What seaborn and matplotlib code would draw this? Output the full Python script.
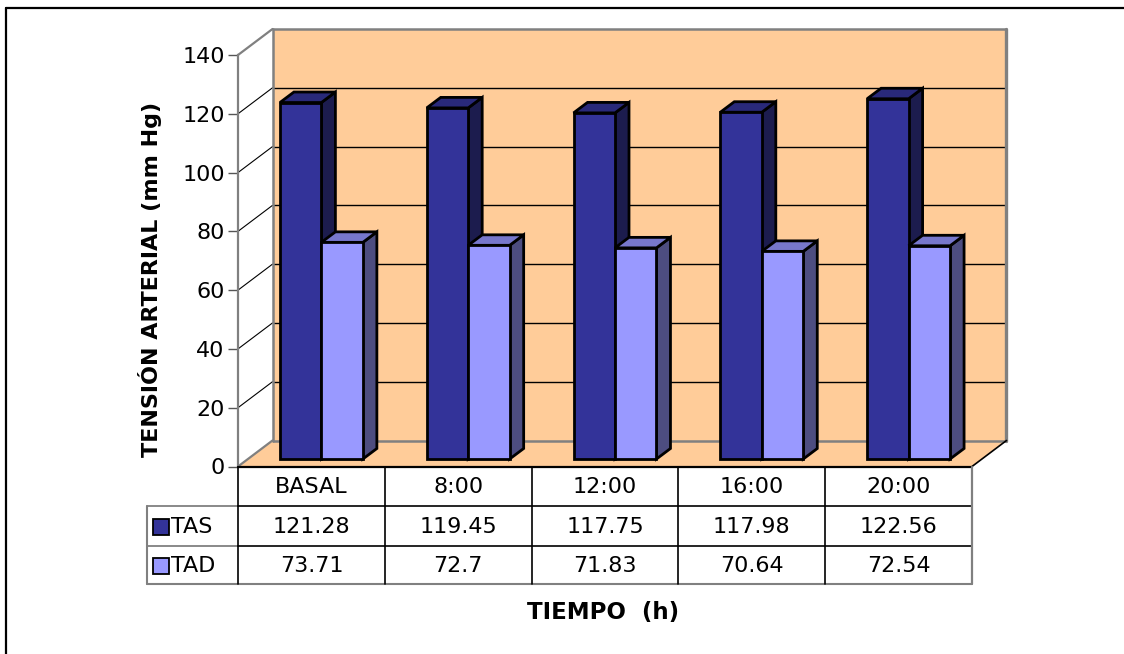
import matplotlib
matplotlib.use("Agg")
import matplotlib.pyplot as plt
from matplotlib.patches import Polygon, Rectangle
from matplotlib.lines import Line2D
from matplotlib import transforms
import pandas as pd
import seaborn as sns

# ---- data -------------------------------------------------------------
categories = ["BASAL", "8:00", "12:00", "16:00", "20:00"]
series = ["TAS", "TAD"]
tas = [121.28, 119.45, 117.75, 117.98, 122.56]
tad = [73.71, 72.7, 71.83, 70.64, 72.54]
y_ticks = [0, 20, 40, 60, 80, 100, 120, 140]

# ---- styling ----------------------------------------------------------
W, H, DPI = 1124, 654, 100
WALL = "#FFCC99"
GREY = "#808080"
FRONT = {"TAS": "#333399", "TAD": "#9999FF"}
TOP = {"TAS": "#29297A", "TAD": "#7777CC"}
SIDE = {"TAS": "#1C1C4E", "TAD": "#4D4D80"}

sns.set_theme(style="white")
plt.rcParams["font.family"] = ["DejaVu Sans"]
plt.rcParams["text.color"] = "black"
plt.rcParams["axes.labelcolor"] = "black"
plt.rcParams["ytick.color"] = "black"
plt.rcParams["xtick.color"] = "black"

fig = plt.figure(figsize=(W / DPI, H / DPI), dpi=DPI)
fig.patch.set_facecolor("white")

# front plane of the 3-D box (pixel coordinates, origin top-left)
X0, X1 = 238, 972
Y0, Y1 = 466.5, 55
ax = fig.add_axes([X0 / W, 1 - Y0 / H, (X1 - X0) / W, (Y0 - Y1) / H])

# depth offsets in pixels (display y points up)
WDX, WDY = 34.5, 26.0      # back wall
BDX, BDY = 10.0, 7.5       # front face of the columns
DDX, DDY = 14.0, 10.5      # thickness of the columns

df = pd.DataFrame({
    "Tiempo": categories * 2,
    "Serie": ["TAS"] * len(tas) + ["TAD"] * len(tad),
    "Valor": tas + tad,
})

sns.barplot(data=df, x="Tiempo", y="Valor", hue="Serie", order=categories,
            hue_order=series, palette=[FRONT[s] for s in series],
            width=0.565, gap=0, saturation=1, errorbar=None,
            edgecolor="black", linewidth=2.0, legend=False, ax=ax)

ax.set_xlim(-0.5, len(categories) - 0.5)
ax.set_ylim(0, 140)
ax.set_yticks(y_ticks)
ax.set_xticks([])
ax.set_xlabel("")
ax.set_ylabel("")
ax.patch.set_visible(False)
for s in ("top", "right", "bottom"):
    ax.spines[s].set_visible(False)
ax.spines["left"].set_color(GREY)
ax.spines["left"].set_linewidth(1.6)
ax.tick_params(axis="y", length=7.5, width=1.0, color="#555555",
               labelsize=16, labelcolor="black", pad=2, left=True)

inv = fig.transFigure.inverted()
xlo, xhi = ax.get_xlim()


def disp(x, y, dx=0.0, dy=0.0):
    px, py = ax.transData.transform((x, y))
    return (px + dx, py + dy)


def poly(pts, **kw):
    p = Polygon(inv.transform(pts), closed=True, transform=fig.transFigure,
                clip_on=False, **kw)
    ax.add_patch(p)
    return p


def seg(p, q, **kw):
    a, b = inv.transform([p, q])
    ax.add_line(Line2D([a[0], b[0]], [a[1], b[1]], transform=fig.transFigure,
                       clip_on=False, **kw))


def fig_xy(xpix, ytop):
    """pixel from the top-left corner -> figure fraction"""
    return xpix / W, 1 - ytop / H


# ---- walls and floor --------------------------------------------------
poly([disp(xlo, 0, WDX, WDY), disp(xhi, 0, WDX, WDY),
      disp(xhi, 140, WDX, WDY), disp(xlo, 140, WDX, WDY)],
     facecolor=WALL, edgecolor="none", zorder=0.1)
poly([disp(xlo, 0), disp(xhi, 0), disp(xhi, 0, WDX, WDY), disp(xlo, 0, WDX, WDY)],
     facecolor=WALL, edgecolor="none", zorder=0.1)

for v in y_ticks[1:-1]:
    seg(disp(xlo, v, WDX, WDY), disp(xhi, v, WDX, WDY), color="black", lw=1.0, zorder=0.3)
    seg(disp(xlo, v), disp(xlo, v, WDX, WDY), color="black", lw=0.8, zorder=0.3)

# outline of the box
seg(disp(xlo, 140), disp(xlo, 140, WDX, WDY), color=GREY, lw=1.6, zorder=0.4)
seg(disp(xlo, 0), disp(xlo, 0, WDX, WDY), color=GREY, lw=1.6, zorder=0.4)
seg(disp(xlo, 0, WDX, WDY), disp(xlo, 140, WDX, WDY), color=GREY, lw=1.8, zorder=0.4)
seg(disp(xlo, 140, WDX, WDY), disp(xhi, 140, WDX, WDY), color=GREY, lw=1.8, zorder=0.4)
seg(disp(xhi, 140, WDX, WDY), disp(xhi, 0, WDX, WDY), color=GREY, lw=2.4, zorder=0.4)
seg(disp(xlo, 0, WDX, WDY), disp(xhi, 0, WDX, WDY), color=GREY, lw=1.8, zorder=0.4)
seg(disp(xhi, 0), disp(xhi, 0, WDX, WDY), color="black", lw=1.2, zorder=0.4)

# ---- 3-D columns built on the seaborn bars ----------------------------
bar_shift = transforms.offset_copy(ax.transData, fig=fig, x=BDX, y=BDY, units="dots")
bars = sorted(ax.patches[:2 * len(categories)], key=lambda p: p.get_x())
front_lookup = {matplotlib.colors.to_hex(FRONT[s]): s for s in series}
for k, p in enumerate(bars):
    name = front_lookup[matplotlib.colors.to_hex(p.get_facecolor())]
    x0, w, h = p.get_x(), p.get_width(), p.get_height()
    z = 2 + k * 0.01
    poly([disp(x0 + w, 0, BDX, BDY), disp(x0 + w, h, BDX, BDY),
          disp(x0 + w, h, BDX + DDX, BDY + DDY), disp(x0 + w, 0, BDX + DDX, BDY + DDY)],
         facecolor=SIDE[name], edgecolor="black", lw=2.0, joinstyle="miter", zorder=z)
    poly([disp(x0, h, BDX, BDY), disp(x0 + w, h, BDX, BDY),
          disp(x0 + w, h, BDX + DDX, BDY + DDY), disp(x0, h, BDX + DDX, BDY + DDY)],
         facecolor=TOP[name], edgecolor="black", lw=2.0, joinstyle="miter", zorder=z + 0.002)
    p.set_transform(bar_shift)
    p.set_clip_on(False)
    p.set_joinstyle("miter")
    p.set_zorder(z + 0.005)

# ---- data table under the plot ----------------------------------------
ROW = [Y0, 506.0, 546.0, 584.0]
LAB_X = 147
col_px = [disp(xlo + i, 0)[0] for i in range(len(categories) + 1)]


def hline(y, xa, xb, color, lw):
    (fa, fy), (fb, _) = fig_xy(xa, y), fig_xy(xb, y)
    fig.add_artist(Line2D([fa, fb], [fy, fy], color=color, lw=lw, zorder=5))


def vline(x, ya, yb, color, lw):
    (fx, fa), (_, fb) = fig_xy(x, ya), fig_xy(x, yb)
    fig.add_artist(Line2D([fx, fx], [fa, fb], color=color, lw=lw, zorder=5))


hline(ROW[0], col_px[0], col_px[-1], "black", 1.6)
for y in ROW[1:3]:
    hline(y, LAB_X, col_px[0], GREY, 1.3)
    hline(y, col_px[0], col_px[-1], "black", 1.2)
hline(ROW[3], LAB_X, col_px[-1], GREY, 1.5)
vline(LAB_X, ROW[1], ROW[3], GREY, 1.5)
for i, x in enumerate(col_px):
    vline(x, ROW[0], ROW[3], GREY if i == len(col_px) - 1 else "black",
          1.6 if i == len(col_px) - 1 else 1.2)

cell_font = dict(fontsize=16, ha="center", va="center", color="black")
for i, cat in enumerate(categories):
    cx = (col_px[i] + col_px[i + 1]) / 2
    fig.text(*fig_xy(cx, (ROW[0] + ROW[1]) / 2 + 1), cat, **cell_font)
    fig.text(*fig_xy(cx, (ROW[1] + ROW[2]) / 2 + 1), f"{tas[i]:g}", **cell_font)
    fig.text(*fig_xy(cx, (ROW[2] + ROW[3]) / 2 + 1), f"{tad[i]:g}", **cell_font)

for r, name in enumerate(series):
    yc = (ROW[r + 1] + ROW[r + 2]) / 2 + 1
    fx, fy = fig_xy(153, yc + 8)
    fig.add_artist(Rectangle((fx, fy), 16 / W, 16 / H, transform=fig.transFigure,
                             facecolor=FRONT[name], edgecolor="black", lw=1.3, zorder=6))
    fig.text(*fig_xy(171, yc), name, fontsize=16, ha="left", va="center")

# ---- titles and frame -------------------------------------------------
fig.text(*fig_xy(150, 279), "TENSIÓN ARTERIAL (mm Hg)", rotation=90,
         fontsize=16, fontweight="bold", ha="center", va="center")
fig.text(*fig_xy(603, 612), "TIEMPO  (h)", fontsize=16.5, fontweight="bold",
         ha="center", va="center")

fig.add_artist(Line2D([6 / W, 1], [1 - 8 / H, 1 - 8 / H], color="black", lw=1.6))
fig.add_artist(Line2D([6 / W, 6 / W], [1 - 8 / H, 0], color="black", lw=1.6))

fig.savefig("out.png", dpi=DPI, facecolor="white")
